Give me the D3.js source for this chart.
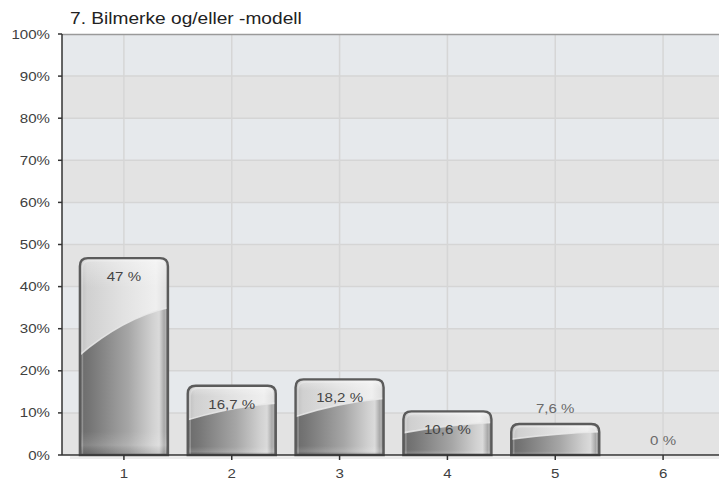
<!DOCTYPE html>
<html>
<head>
<meta charset="utf-8">
<script src="https://cdn.jsdelivr.net/npm/d3@7"></script>
<style>
  html, body { margin: 0; padding: 0; background: #fff; }
  svg { display: block; }
  text { font-family: "Liberation Sans", Arial, sans-serif; }
</style>
</head>
<body>
<div id="chart"></div>
<script>
// Survey question and answer shares
const title = "7. Bilmerke og/eller -modell";
const categories = ["1", "2", "3", "4", "5", "6"];
const values = [47, 16.7, 18.2, 10.6, 7.6, 0];
const yTicks = [0, 10, 20, 30, 40, 50, 60, 70, 80, 90, 100];

const W = 719, H = 484;
const plot = { left: 62, right: 719, top: 34, bottom: 455 };
const textScale = 1.16;

const svg = d3.select("#chart").append("svg")
  .attr("width", W).attr("height", H);

const x = d3.scaleBand()
  .domain(categories)
  .range([70, 717])
  .paddingInner(0.165)
  .paddingOuter(0.0825);

const y = d3.scaleLinear()
  .domain([0, 100])
  .range([plot.bottom, plot.top]);

const defs = svg.append("defs");

// Horizontal shading for the lower (darker) part of each bar
const gLow = defs.append("linearGradient").attr("id", "gLow")
  .attr("x1", "0").attr("x2", "1").attr("y1", "0").attr("y2", "0");
[[0, "#6b6b6b"], [0.12, "#767676"], [0.55, "#a6a6a6"], [0.82, "#d0d0d0"],
 [0.9, "#dadada"], [0.96, "#a5a5a5"], [1, "#7a7a7a"]]
  .forEach(([o, c]) => gLow.append("stop").attr("offset", o).attr("stop-color", c));

// Glossy upper part
const gHigh = defs.append("linearGradient").attr("id", "gHigh")
  .attr("x1", "0").attr("x2", "1").attr("y1", "0").attr("y2", "0");
[[0, "#b9b9b9"], [0.1, "#d0d0d0"], [0.5, "#e2e2e2"], [0.85, "#efefef"],
 [0.94, "#e2e2e2"], [1, "#a8a8a8"]]
  .forEach(([o, c]) => gHigh.append("stop").attr("offset", o).attr("stop-color", c));

// Soft light at top and near the floor of each bar
const gVert = defs.append("linearGradient").attr("id", "gVert")
  .attr("x1", "0").attr("x2", "0").attr("y1", "0").attr("y2", "1");
[[0, "#fff", 0.35], [0.15, "#fff", 0.0], [0.88, "#fff", 0.0], [0.95, "#fff", 0.14], [1, "#000", 0.1]]
  .forEach(([o, c, a]) => gVert.append("stop").attr("offset", o)
    .attr("stop-color", c).attr("stop-opacity", a));

// Alternating horizontal bands
const bandColors = ["#e3e3e3", "#e6e9ec"];
for (let i = 0; i < yTicks.length - 1; i++) {
  svg.append("rect")
    .attr("x", plot.left).attr("width", plot.right - plot.left)
    .attr("y", y(yTicks[i + 1])).attr("height", y(yTicks[i]) - y(yTicks[i + 1]))
    .attr("fill", bandColors[(yTicks.length - 2 - i) % 2 === 0 ? 1 : 0]);
}

// Grid lines
svg.append("g").selectAll("line.h").data(yTicks.slice(1, -1)).join("line")
  .attr("x1", plot.left).attr("x2", plot.right)
  .attr("y1", d => y(d)).attr("y2", d => y(d))
  .attr("stroke", "#d5d5d5").attr("stroke-width", 1.5);
svg.append("g").selectAll("line.v").data(categories).join("line")
  .attr("x1", d => x(d) + x.bandwidth() / 2).attr("x2", d => x(d) + x.bandwidth() / 2)
  .attr("y1", plot.top).attr("y2", plot.bottom)
  .attr("stroke", "#d6d6d6").attr("stroke-width", 1.5);

// Top frame line
svg.append("line")
  .attr("x1", plot.left).attr("x2", plot.right)
  .attr("y1", plot.top + 0.5).attr("y2", plot.top + 0.5)
  .attr("stroke", "#9a9a9a").attr("stroke-width", 1.5);

// Faint shadow under the baseline
svg.append("rect")
  .attr("x", plot.left + 8).attr("width", plot.right - plot.left - 8)
  .attr("y", plot.bottom + 1).attr("height", 3)
  .attr("fill", "#ececec");

// Bars
const r = 8;
function barPath(x0, x1, top, bottom) {
  const rr = Math.min(r, (bottom - top));
  return `M${x0},${bottom} L${x0},${top + rr} Q${x0},${top} ${x0 + rr},${top} ` +
    `L${x1 - rr},${top} Q${x1},${top} ${x1},${top + rr} L${x1},${bottom} Z`;
}

const bars = svg.append("g");
values.forEach((v, i) => {
  if (v <= 0) return;
  const c = categories[i];
  const x0 = x(c) + 1, x1 = x(c) + x.bandwidth() - 1;
  const top = y(v) + 1, bottom = plot.bottom;
  const h = bottom - top;
  const w = x1 - x0;
  const shape = barPath(x0, x1, top, bottom);
  const cid = "clip" + i;
  defs.append("clipPath").attr("id", cid).append("path").attr("d", shape);
  const g = bars.append("g").attr("clip-path", `url(#${cid})`);
  g.append("path").attr("d", shape).attr("fill", "url(#gLow)");
  // glossy cap bounded by a curve from half height (left) to quarter height (right)
  const yl = top + 0.5 * h, yr = top + 0.25 * h;
  const curve = `M${x0 - 2},${yl} Q${x0 + 0.5 * w},${top + 0.3 * h} ${x1 + 2},${yr}`;
  g.append("path")
    .attr("d", `M${x0 - 2},${top - 2} L${x1 + 2},${top - 2} L${x1 + 2},${yr} ` +
      `Q${x0 + 0.5 * w},${top + 0.3 * h} ${x0 - 2},${yl} Z`)
    .attr("fill", "url(#gHigh)");
  g.append("path").attr("d", curve).attr("fill", "none")
    .attr("stroke", "#e9e9e9").attr("stroke-width", 1.6).attr("opacity", 0.85);
  g.append("path").attr("d", shape).attr("fill", "url(#gVert)");
  // inner light rim
  g.append("path").attr("d", barPath(x0 + 2.5, x1 - 2.5, top + 2.5, bottom + 4))
    .attr("fill", "none").attr("stroke", "#fff").attr("stroke-opacity", 0.25).attr("stroke-width", 1.5);
  bars.append("path").attr("d", shape)
    .attr("fill", "none").attr("stroke", "#5b5b5b").attr("stroke-width", 2.4);
});

// Axes
svg.append("line")
  .attr("x1", plot.left).attr("x2", plot.right)
  .attr("y1", plot.bottom).attr("y2", plot.bottom)
  .attr("stroke", "#333").attr("stroke-width", 1.5);
svg.append("line")
  .attr("x1", plot.left).attr("x2", plot.left)
  .attr("y1", plot.top).attr("y2", plot.bottom)
  .attr("stroke", "#333").attr("stroke-width", 1.5);

// Y ticks and labels
const yt = svg.append("g");
yTicks.forEach(t => {
  yt.append("line").attr("x1", plot.left - 4).attr("x2", plot.left)
    .attr("y1", y(t)).attr("y2", y(t)).attr("stroke", "#333").attr("stroke-width", 1.5);
  yt.append("text")
    .attr("transform", `translate(${plot.left - 12},${y(t) + 4.5}) scale(${textScale},1)`)
    .attr("text-anchor", "end").attr("font-size", 13).attr("fill", "#404040")
    .text(t + "%");
});

// X ticks and labels
const xt = svg.append("g");
categories.forEach(c => {
  const cx = x(c) + x.bandwidth() / 2;
  xt.append("line").attr("x1", cx).attr("x2", cx)
    .attr("y1", plot.bottom).attr("y2", plot.bottom + 5)
    .attr("stroke", "#333").attr("stroke-width", 1.5);
  xt.append("text")
    .attr("transform", `translate(${cx},${plot.bottom + 23}) scale(${textScale},1)`)
    .attr("text-anchor", "middle").attr("font-size", 13).attr("fill", "#404040")
    .text(c);
});

// Value labels: inside near the top for taller bars, above the bar otherwise
const fmt = v => String(v).replace(".", ",") + " %";
values.forEach((v, i) => {
  const cx = x(categories[i]) + x.bandwidth() / 2;
  const inside = v >= 10;
  const ty = inside ? y(v) + 24 : y(v) - 10;
  svg.append("text")
    .attr("transform", `translate(${cx},${ty}) scale(${textScale},1)`)
    .attr("text-anchor", "middle").attr("font-size", 13)
    .attr("fill", inside ? "#454545" : "#6a6a6a")
    .text(fmt(v));
});

// Title
svg.append("text")
  .attr("transform", `translate(70,24) scale(${textScale},1)`)
  .attr("font-size", 16.5).attr("fill", "#222")
  .text(title);
</script>
</body>
</html>
